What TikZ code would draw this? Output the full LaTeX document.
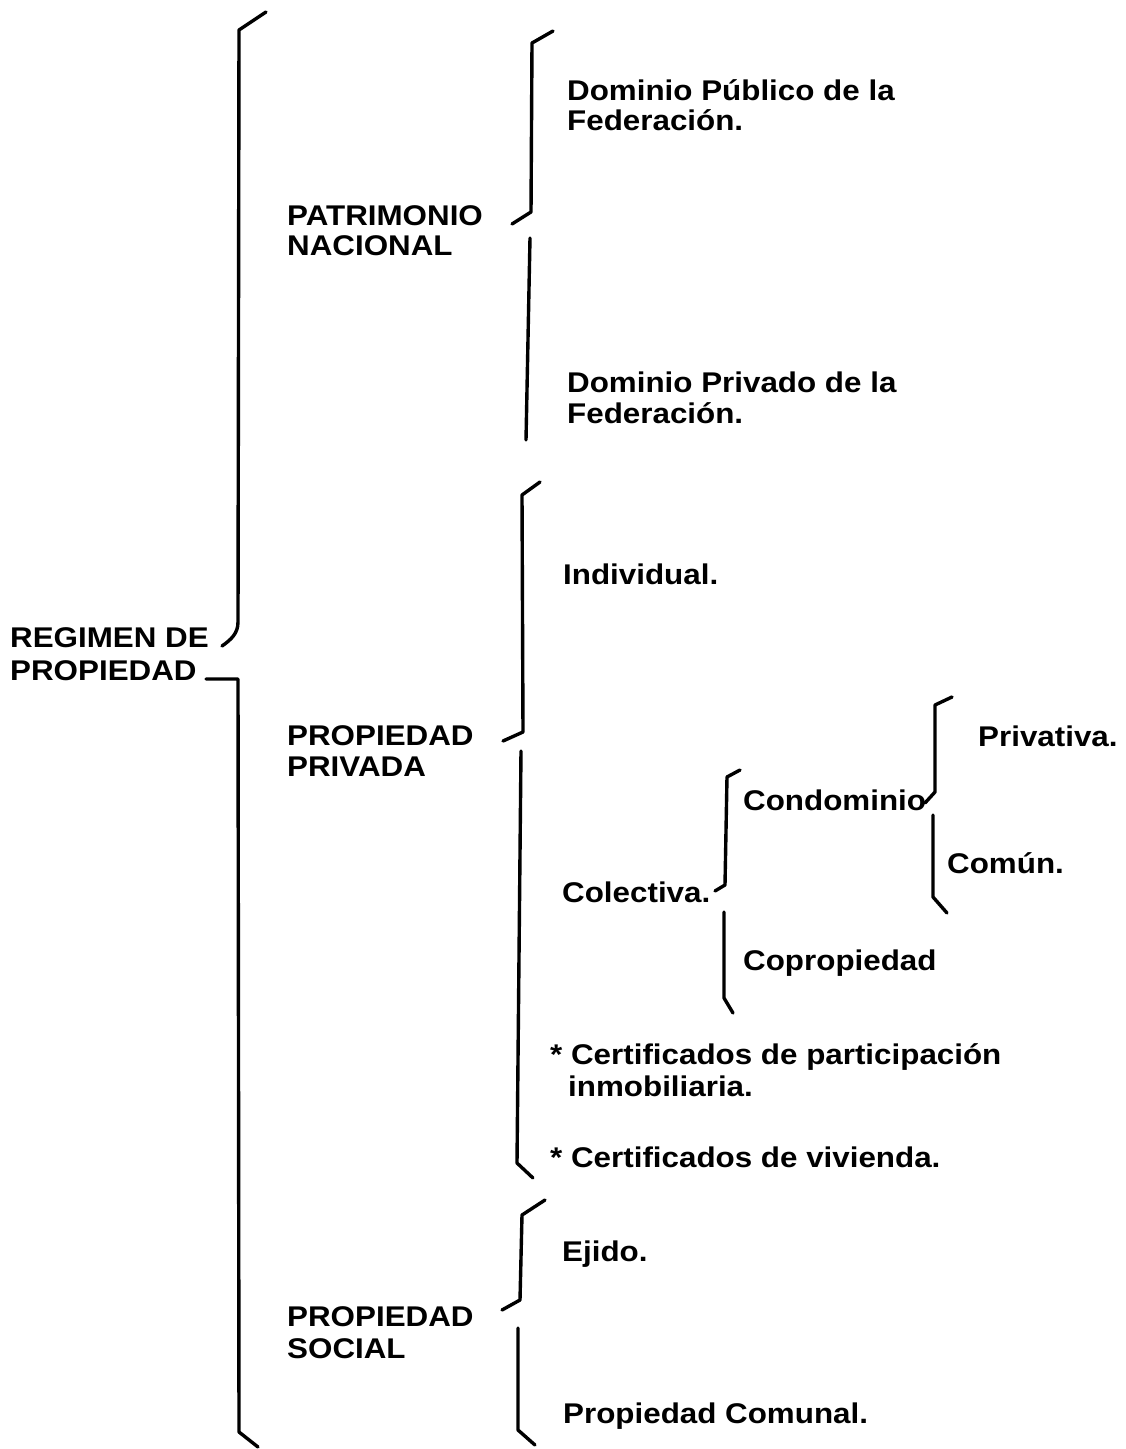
\documentclass[tikz,border=0pt]{standalone}
\usepackage{fontspec}
\setmainfont{Liberation Sans}[FakeStretch=1.1]
\begin{document}
\begin{tikzpicture}[x=1pt,y=-1pt,
  lbl/.style={anchor=base west, inner sep=0pt, font=\fontsize{28.5}{30}\selectfont\bfseries},
  br/.style={line width=3.4pt, line cap=round, line join=round}]
\useasboundingbox (0,0) rectangle (1125,1449);
\fill[white] (0,0) rectangle (1125,1449);
% texts
\node[lbl] (reg1) at (10,647) {REGIMEN DE};
\node[lbl] (reg2) at (10,680) {PROPIEDAD};
\node[lbl] (pat1) at (287,225) {PATRIMONIO};
\node[lbl] (pat2) at (287,255) {NACIONAL};
\node[lbl] (dpu1) at (567,100) {Dominio Público de la};
\node[lbl] (dpu2) at (567,130) {Federación.};
\node[lbl] (dpr1) at (567,392) {Dominio Privado de la};
\node[lbl] (dpr2) at (567,423) {Federación.};
\node[lbl] (ind) at (563,584) {Individual.};
\node[lbl] (ppr1) at (287,745) {PROPIEDAD};
\node[lbl] (ppr2) at (287,776) {PRIVADA};
\node[lbl] (priv) at (978,746) {Privativa.};
\node[lbl] (cond) at (743,810) {Condominio};
\node[lbl] (comun) at (947,873) {Común.};
\node[lbl] (colec) at (562,902) {Colectiva.};
\node[lbl] (copro) at (743,970) {Copropiedad};
\node[lbl] (cert1) at (550,1064) {* Certificados de participación};
\node[lbl] (inmo) at (568,1096) {inmobiliaria.};
\node[lbl] (cert2) at (550,1167) {* Certificados de vivienda.};
\node[lbl] (ejido) at (562,1261) {Ejido.};
\node[lbl] (pso1) at (287,1326) {PROPIEDAD};
\node[lbl] (pso2) at (287,1358) {SOCIAL};
\node[lbl] (pcom) at (563,1423) {Propiedad Comunal.};
% main brace
\draw[br] (266,12) -- (239,30) -- (238,622) to[out=-90,in=35] (222,646);
\draw[br] (206,679) -- (238,679) -- (239,1432) -- (258,1447);
% patrimonio nacional
\draw[br] (553,31) -- (532,43) -- (531,212) -- (512,224);
\draw[br] (530,238) -- (526,440);
% propiedad privada
\draw[br] (540,482) -- (522,495) -- (523,732) -- (503,741);
\draw[br] (521,751) -- (517,1163) -- (533,1178);
% colectiva
\draw[br] (740,770) -- (727,777) -- (725,885) -- (715,891);
\draw[br] (724,912) -- (724,998) -- (733,1013);
% condominio
\draw[br] (952,697) -- (935,705) -- (935,792) -- (925,803);
\draw[br] (933,815) -- (933,897) -- (947,913);
% propiedad social
\draw[br] (545,1200) -- (522,1215) -- (520,1300) -- (502,1310);
\draw[br] (518,1328) -- (518,1430) -- (535,1445);
\end{tikzpicture}
\end{document}
